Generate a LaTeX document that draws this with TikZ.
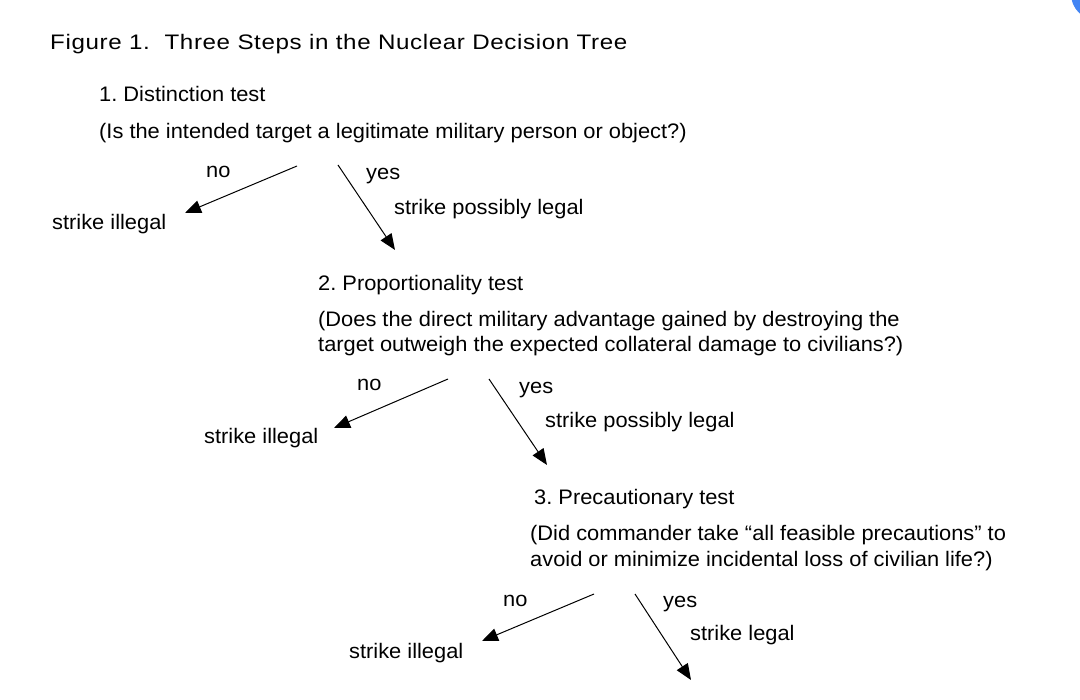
\documentclass[tikz,border=0pt]{standalone}
\usepackage{fontspec}
\setmainfont{Liberation Sans}[FakeStretch=1.04]
\newfontfamily\titlefont{Liberation Sans}[FakeStretch=1.15,LetterSpace=3]
\usetikzlibrary{arrows.meta}
\definecolor{dotblue}{HTML}{4285F4}
\frenchspacing
\begin{document}
\begin{tikzpicture}[x=1pt,y=-1pt,
  txt/.style={anchor=base west,inner sep=0pt,font=\fontsize{21}{25}\selectfont\frenchspacing},
  ttl/.style={anchor=base west,inner sep=0pt,font=\titlefont\fontsize{21}{25}\selectfont\frenchspacing},
  arr/.style={line width=1pt,-{Triangle[length=16pt,width=13pt]}}]
\useasboundingbox (0,0) rectangle (1080,700);
\fill[white] (0,0) rectangle (1080,700);
\begin{scope}
\clip (0,0) rectangle (1080,700);
\fill[dotblue] (1097,-6) circle (26);
\end{scope}
\node[ttl] (title) at (50,50) {Figure 1.\ \ Three Steps in the Nuclear Decision Tree};
% step 1
\node[txt] (t1) at (99,102) {1. Distinction test};
\node[txt] (q1) at (99,139) {(Is the intended target a legitimate military person or object?)};
\node[txt] (no1) at (206,178) {no};
\node[txt] (yes1) at (366,180) {yes};
\node[txt] (pl1) at (394,215) {strike possibly legal};
\node[txt] (il1) at (52,230) {strike illegal};
\coordinate (n1s) at (297,166); \coordinate (n1e) at (185,213);
\coordinate (y1s) at (338,165); \coordinate (y1e) at (395,250);
\draw[arr] (n1s) -- (n1e);
\draw[arr] (y1s) -- (y1e);
% step 2
\node[txt] (t2) at (318,291) {2. Proportionality test};
\node[txt] (q2a) at (318,327) {(Does the direct military advantage gained by destroying the};
\node[txt] (q2b) at (318,352) {target outweigh the expected collateral damage to civilians?)};
\node[txt] (no2) at (357,391) {no};
\node[txt] (yes2) at (519,394) {yes};
\node[txt] (pl2) at (545,428) {strike possibly legal};
\node[txt] (il2) at (204,444) {strike illegal};
\coordinate (n2s) at (448,379); \coordinate (n2e) at (334,428);
\coordinate (y2s) at (489,379); \coordinate (y2e) at (547,465);
\draw[arr] (n2s) -- (n2e);
\draw[arr] (y2s) -- (y2e);
% step 3
\node[txt] (t3) at (534,505) {3. Precautionary test};
\node[txt] (q3a) at (530,541) {(Did commander take “all feasible precautions” to};
\node[txt] (q3b) at (530,566) {avoid or minimize incidental loss of civilian life?)};
\node[txt] (no3) at (503,606) {no};
\node[txt] (yes3) at (663,608) {yes};
\node[txt] (pl3) at (690,641) {strike legal};
\node[txt] (il3) at (349,658) {strike illegal};
\coordinate (n3s) at (594,594); \coordinate (n3e) at (482,641);
\coordinate (y3s) at (635,594); \coordinate (y3e) at (691,680);
\draw[arr] (n3s) -- (n3e);
\draw[arr] (y3s) -- (y3e);
\end{tikzpicture}
\end{document}
